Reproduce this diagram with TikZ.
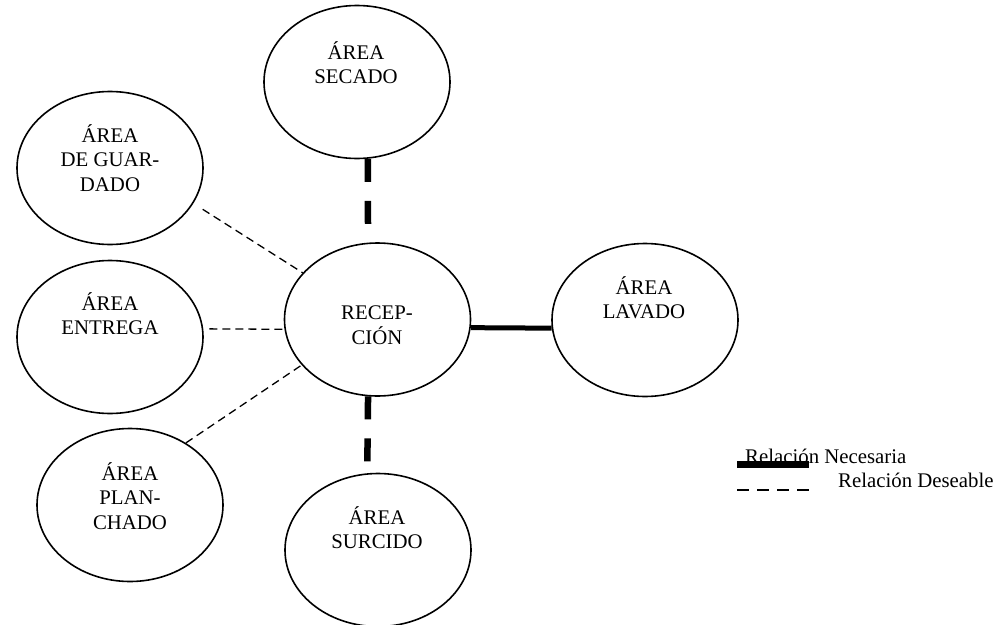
\documentclass[tikz,border=0pt]{standalone}
\usepackage{fontspec}
\setmainfont{Liberation Serif}
\usetikzlibrary{shapes.geometric}
\newcommand\mylines[1]{\begin{tabular}[t]{@{}c@{}}#1\end{tabular}}
\tikzset{
  area/.style={ellipse, draw=black, line width=1.6pt, minimum width=186pt, minimum height=153pt, inner sep=0pt},
  lbl/.style={anchor=base, inner sep=0pt, font=\fontsize{20.8}{24.5}\selectfont},
  necesaria/.style={line width=5pt},
  deseablethick/.style={line width=6.5pt, dash pattern=on 23pt off 19pt},
  deseable/.style={line width=1.3pt, dash pattern=on 8pt off 5pt},
}
\begin{document}
\begin{tikzpicture}[x=1pt,y=-1pt]
\useasboundingbox (0,0) rectangle (1001,624);
% ellipses
\node[area] (sec) at (357,82) {};
\node[area] (guard) at (110,168) {};
\node[area] (ent) at (110,337) {};
\node[area] (rec) at (377.5,319.5) {};
\node[area] (lav) at (645,320) {};
\node[area] (plan) at (130,505) {};
\node[area] (sur) at (378,550) {};
% labels
\node[lbl] (tsec) at (356,59) {\mylines{ÁREA\\SECADO}};
\node[lbl] (tguard) at (110,142) {\mylines{ÁREA\\DE GUAR-\\DADO}};
\node[lbl] (tent) at (110,310) {\mylines{ÁREA\\ENTREGA}};
\node[lbl] (trec) at (377,319) {\mylines{RECEP-\\CIÓN}};
\node[lbl] (tlav) at (644,294) {\mylines{ÁREA\\LAVADO}};
\node[lbl] (tplan) at (130,480) {\mylines{ÁREA\\PLAN-\\CHADO}};
\node[lbl] (tsur) at (377,524) {\mylines{ÁREA\\SURCIDO}};
% connectors
\draw[deseablethick] (sec.-82.6) -- (rec.97.4);
\draw[deseablethick] (rec.-97.4) -- (sur.98.1);
\draw[necesaria] (rec.-5) -- (lav.-175.1);
\draw[deseable, shorten <=11pt] (guard.-23.6) -- (rec.148.9);
\draw[deseable, shorten <=6pt] (ent.5.6) -- (rec.-174.7);
\draw[deseable] (plan.48.4) -- (rec.-149.6);
% legend
\coordinate (n1) at (737,464);
\coordinate (n2) at (809,464);
\coordinate (d1) at (737,490);
\coordinate (d2) at (809,490);
\draw[line width=7pt] (n1) -- (n2);
\draw[line width=2.5pt, dash pattern=on 12pt off 8pt] (d1) -- (d2);
\node[lbl, anchor=base west] (ln) at (745,463) {Relación Necesaria};
\node[lbl, anchor=base west] (ld) at (838,487) {Relación Deseable};
\end{tikzpicture}
\end{document}
